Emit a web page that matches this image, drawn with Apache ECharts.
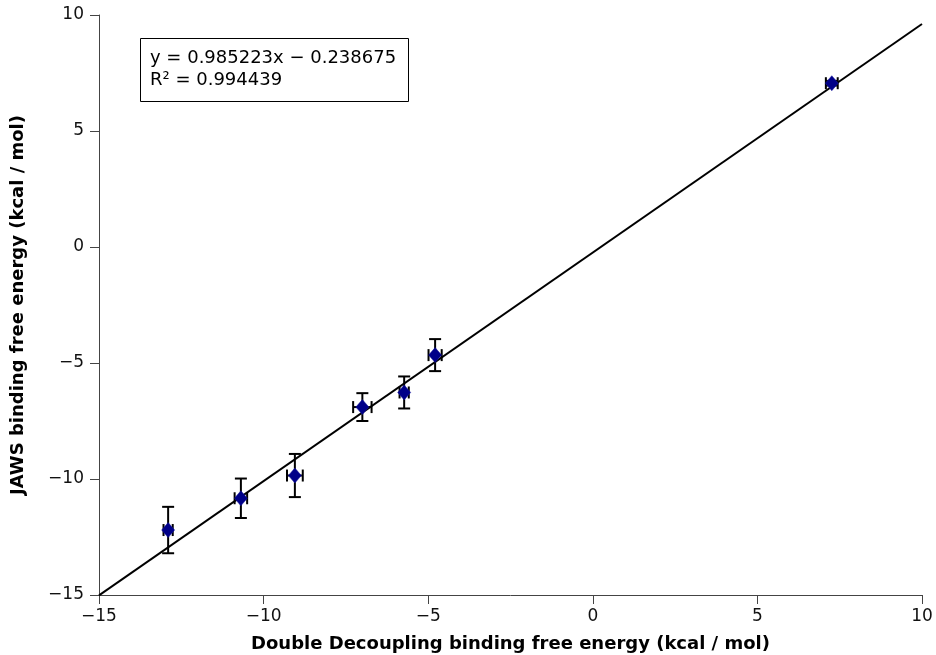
<!DOCTYPE html>
<html>
<head>
<meta charset="utf-8">
<script src="https://cdn.jsdelivr.net/npm/echarts@6/dist/echarts.min.js"></script>
<style>html,body{margin:0;padding:0;background:#fff}#chart{width:936px;height:655px}</style>
</head>
<body>
<div id="chart"></div>
<script>
// Data
var ddG = [-12.9, -10.69, -9.05, -7.0, -5.73, -4.79, 7.26];     // x: Double Decoupling
var jawsG = [-12.2, -10.83, -9.85, -6.9, -6.27, -4.66, 7.06];   // y: JAWS
var xErr = [0.14, 0.19, 0.24, 0.28, 0.14, 0.2, 0.18];
var yErr = [1.0, 0.85, 0.93, 0.6, 0.69, 0.69, 0.1];
var fitSlope = 0.985223;
var fitIntercept = -0.238675;
var rSquared = 0.994439;
var fitRange = [-15, 10];
var xTicks = [-15, -10, -5, 0, 5, 10];
var yTicks = [-15, -10, -5, 0, 5, 10];

var FONT = 'DejaVu Sans';
var points = ddG.map(function (x, i) { return [x, jawsG[i]]; });
var errData = ddG.map(function (x, i) { return [x, jawsG[i], xErr[i], yErr[i]]; });
var fitData = fitRange.map(function (x) { return [x, fitSlope * x + fitIntercept]; });

function fmt(v) { return v < 0 ? '\u2212' + Math.abs(v) : String(v); }

var chart = echarts.init(document.getElementById('chart'));
var axisCommon = {
  type: 'value',
  interval: 5,
  nameLocation: 'middle',
  nameTextStyle: { fontFamily: FONT, fontWeight: 'bold', fontSize: 18, color: '#000' },
  axisLine: { show: true, onZero: false, lineStyle: { color: '#444', width: 1 } },
  axisTick: { show: true, length: 9, inside: false, lineStyle: { color: '#444', width: 1 } },
  axisLabel: { fontFamily: FONT, fontSize: 17, color: '#111', formatter: fmt },
  splitLine: { show: false }
};

chart.setOption({
  animation: false,
  backgroundColor: '#fff',
  grid: { left: 99, right: 14, top: 15, bottom: 60, containLabel: false, outerBoundsMode: 'none' },
  xAxis: Object.assign({}, axisCommon, {
    min: xTicks[0], max: xTicks[xTicks.length - 1],
    name: 'Double Decoupling binding free energy (kcal / mol)',
    nameGap: 40,
    axisLabel: Object.assign({}, axisCommon.axisLabel, { margin: 13 })
  }),
  yAxis: Object.assign({}, axisCommon, {
    min: yTicks[0], max: yTicks[yTicks.length - 1],
    name: 'JAWS binding free energy (kcal / mol)',
    nameGap: 72,
    axisLabel: Object.assign({}, axisCommon.axisLabel, { margin: 15 })
  }),
  graphic: [
    { type: 'rect', left: 140, top: 38, shape: { width: 268, height: 63 },
      style: { fill: '#fff', stroke: '#000', lineWidth: 1 }, z: 10 },
    { type: 'text', left: 150, top: 47, z: 11,
      style: { text: 'y = ' + fitSlope + 'x \u2212 ' + Math.abs(fitIntercept) + '\nR\u00b2 = ' + rSquared,
        font: '18px "DejaVu Sans"', fill: '#000', lineHeight: 22 } }
  ],
  series: [
    {
      type: 'line', data: fitData, showSymbol: false, symbol: 'none', clip: true,
      lineStyle: { color: '#000', width: 2 }, z: 2, silent: true
    },
    {
      type: 'custom', z: 3,
      data: errData,
      renderItem: function (params, api) {
        var x = api.value(0), y = api.value(1), ex = api.value(2), ey = api.value(3);
        var top = api.coord([x, y + ey]), bot = api.coord([x, y - ey]);
        var lft = api.coord([x - ex, y]), rgt = api.coord([x + ex, y]);
        var cap = 6;
        var st = { stroke: '#000', lineWidth: 2 };
        return { type: 'group', children: [
          { type: 'line', shape: { x1: top[0], y1: top[1], x2: bot[0], y2: bot[1] }, style: st },
          { type: 'line', shape: { x1: top[0] - cap, y1: top[1], x2: top[0] + cap, y2: top[1] }, style: st },
          { type: 'line', shape: { x1: bot[0] - cap, y1: bot[1], x2: bot[0] + cap, y2: bot[1] }, style: st },
          { type: 'line', shape: { x1: lft[0], y1: lft[1], x2: rgt[0], y2: rgt[1] }, style: st },
          { type: 'line', shape: { x1: lft[0], y1: lft[1] - cap, x2: lft[0], y2: lft[1] + cap }, style: st },
          { type: 'line', shape: { x1: rgt[0], y1: rgt[1] - cap, x2: rgt[0], y2: rgt[1] + cap }, style: st }
        ] };
      }
    },
    {
      type: 'scatter', data: points, symbol: 'diamond', symbolSize: [13, 15], z: 4,
      itemStyle: { color: '#000088', borderColor: '#1a1aa0', borderWidth: 0.5, opacity: 1 }
    }
  ]
});
</script>
</body>
</html>
